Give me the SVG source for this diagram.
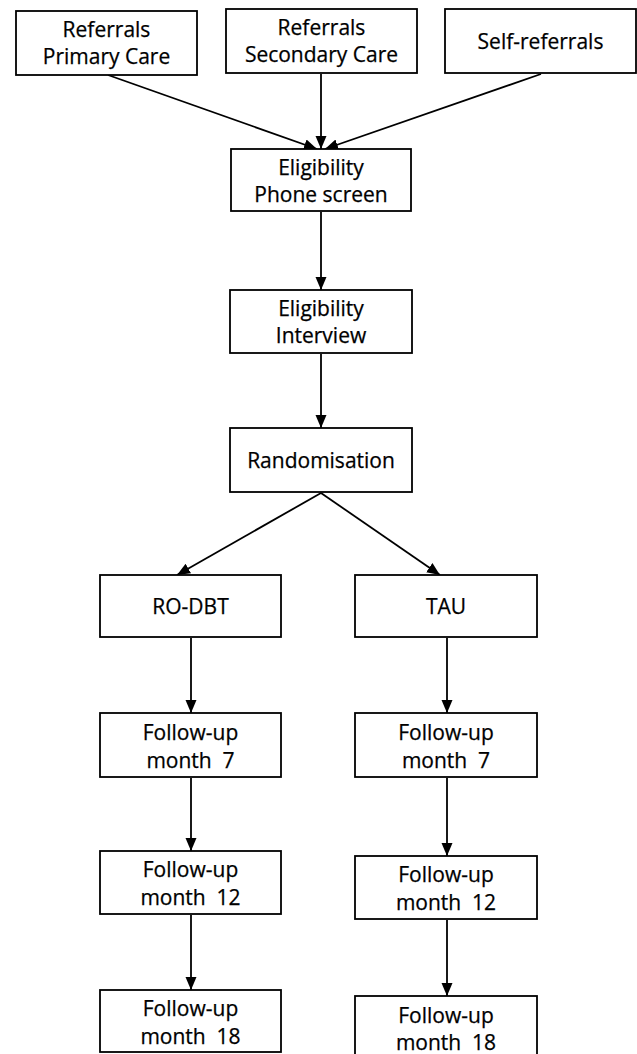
<svg xmlns="http://www.w3.org/2000/svg" width="637" height="1054" viewBox="0 0 637 1054">
<style>
.box{fill:#fff;stroke:#000;stroke-width:1.8}
.t{font-family:"Open Sans","Noto Sans","DejaVu Sans",sans-serif;font-size:21px;fill:#000;stroke:#000;stroke-width:0.25;text-anchor:middle;white-space:pre}
.c{stroke:#000;stroke-width:1.8;fill:none;marker-end:url(#ah)}
</style>
<defs>
<marker id="ah" markerUnits="userSpaceOnUse" markerWidth="14" markerHeight="14" viewBox="0 0 14 14" refX="13" refY="7" orient="auto">
<path d="M0,1.5 L13,7 L0,12.5 Z" fill="#000"/>
</marker>
</defs>
<rect width="637" height="1054" fill="#fff"/>
<g id="connectors">
<line class="c" x1="108" y1="75" x2="317" y2="149"/>
<line class="c" x1="321" y1="74" x2="321" y2="149"/>
<line class="c" x1="541" y1="74" x2="325" y2="149"/>
<line class="c" x1="321" y1="212" x2="321" y2="290"/>
<line class="c" x1="321" y1="354" x2="321" y2="428"/>
<line class="c" x1="321" y1="493" x2="177" y2="575"/>
<line class="c" x1="321" y1="493" x2="440" y2="575"/>
<line class="c" x1="191" y1="638" x2="191" y2="713"/>
<line class="c" x1="191" y1="778" x2="191" y2="851"/>
<line class="c" x1="191" y1="915" x2="191" y2="990"/>
<line class="c" x1="447" y1="638" x2="447" y2="713"/>
<line class="c" x1="447" y1="778" x2="447" y2="856"/>
<line class="c" x1="447" y1="920" x2="447" y2="996"/>
</g>
<g id="n1"><rect class="box" x="16" y="11" width="181" height="64"/><text class="t" x="106.5" y="37">Referrals</text><text class="t" x="106.5" y="64">Primary Care</text></g>
<g id="n2"><rect class="box" x="226" y="9" width="191" height="64"/><text class="t" x="321.5" y="35">Referrals</text><text class="t" x="321.5" y="62">Secondary Care</text></g>
<g id="n3"><rect class="box" x="445" y="9" width="191" height="64"/><text class="t" x="540.5" y="49">Self-referrals</text></g>
<g id="n4"><rect class="box" x="231" y="149" width="180" height="62"/><text class="t" x="321" y="175">Eligibility</text><text class="t" x="321" y="202">Phone screen</text></g>
<g id="n5"><rect class="box" x="230" y="290" width="182" height="63"/><text class="t" x="321" y="316">Eligibility</text><text class="t" x="321" y="343">Interview</text></g>
<g id="n6"><rect class="box" x="230" y="428" width="182" height="64"/><text class="t" x="321" y="468">Randomisation</text></g>
<g id="n7"><rect class="box" x="100" y="575" width="181" height="62"/><text class="t" x="190.5" y="614">RO-DBT</text></g>
<g id="n8"><rect class="box" x="355" y="575" width="182" height="62"/><text class="t" x="446" y="614">TAU</text></g>
<g id="n9"><rect class="box" x="100" y="713" width="181" height="64"/><text class="t" x="190.5" y="740">Follow-up</text><text class="t" x="190.5" y="768">month  7</text></g>
<g id="n10"><rect class="box" x="355" y="713" width="182" height="64"/><text class="t" x="446" y="740">Follow-up</text><text class="t" x="446" y="768">month  7</text></g>
<g id="n11"><rect class="box" x="100" y="851" width="181" height="63"/><text class="t" x="190.5" y="877">Follow-up</text><text class="t" x="190.5" y="905">month  12</text></g>
<g id="n12"><rect class="box" x="355" y="856" width="182" height="63"/><text class="t" x="446" y="882">Follow-up</text><text class="t" x="446" y="910">month  12</text></g>
<g id="n13"><rect class="box" x="100" y="990" width="181" height="62"/><text class="t" x="190.5" y="1016">Follow-up</text><text class="t" x="190.5" y="1044">month  18</text></g>
<g id="n14"><rect class="box" x="355" y="996" width="182" height="64"/><text class="t" x="446" y="1023">Follow-up</text><text class="t" x="446" y="1050">month  18</text></g>
</svg>
